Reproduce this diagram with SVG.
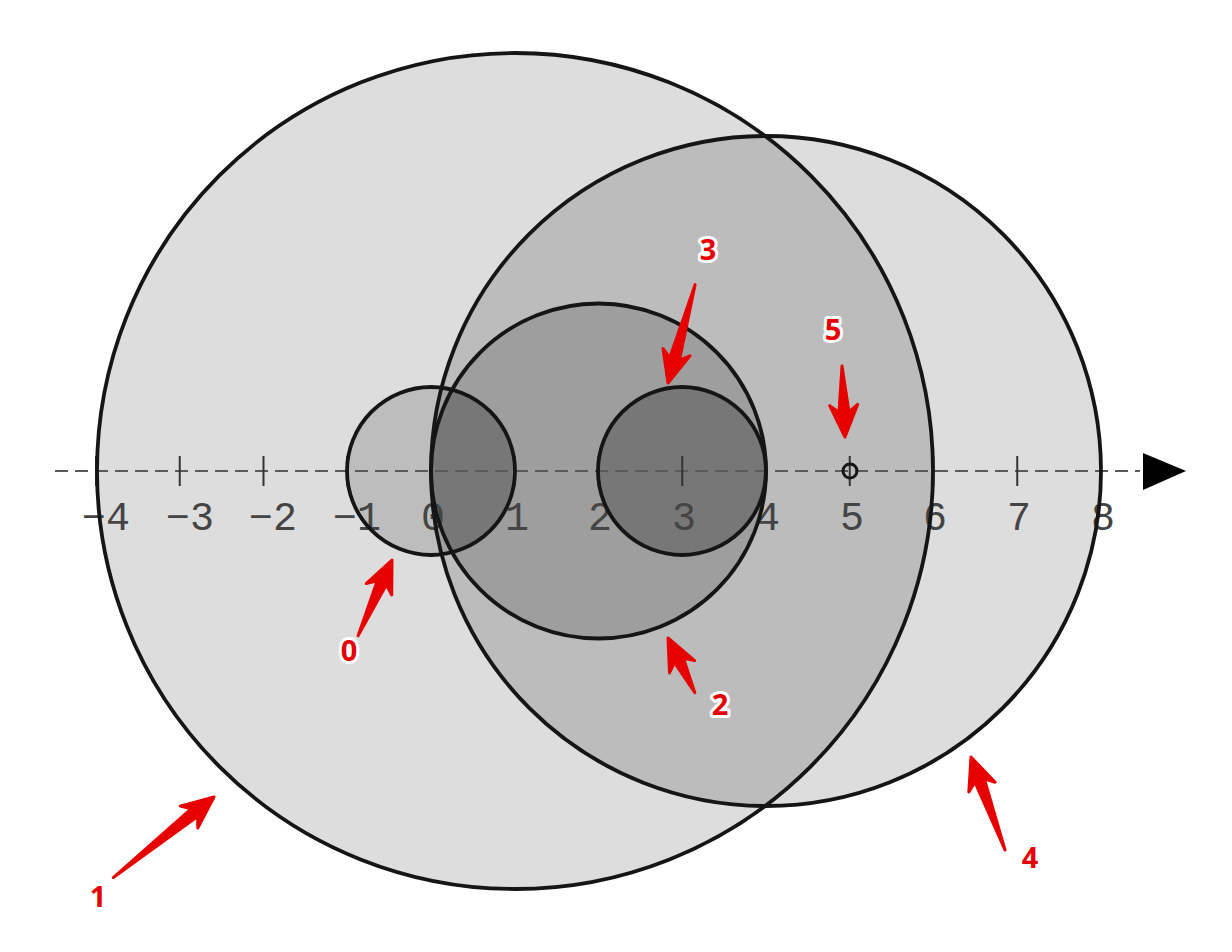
<svg xmlns="http://www.w3.org/2000/svg" width="1232" height="952" viewBox="0 0 1232 952">
  <style>
    .edge { fill: none; stroke: #151515; stroke-width: 3.8; }
    .tick { stroke: #333; stroke-width: 2; }
    .num { font-family: "Liberation Mono", "DejaVu Sans Mono", monospace; font-size: 40px; fill: #444444; text-anchor: middle; }
    .arrow { fill: #e60000; stroke: #e60000; stroke-width: 3; stroke-linejoin: round; }
    .lbl { font-family: "Open Sans", "Liberation Sans", sans-serif; font-weight: bold; font-size: 29px; fill: #e60000; stroke: #ffffff; stroke-width: 6; paint-order: stroke; stroke-linejoin: round; text-anchor: middle; }
  </style>
  <defs>
    <clipPath id="clip1"><circle cx="515" cy="471" r="418"/></clipPath>
    <clipPath id="clip4"><circle cx="766" cy="471" r="335"/></clipPath>
    <clipPath id="clip2"><circle cx="598.5" cy="471" r="167.5"/></clipPath>
  </defs>
  <rect x="0" y="0" width="1232" height="952" fill="#ffffff"/>

  <g id="fills">
    <circle cx="515" cy="471" r="418" fill="#dddddd"/>
    <circle cx="766" cy="471" r="335" fill="#dddddd"/>
    <circle cx="766" cy="471" r="335" fill="#bcbcbc" clip-path="url(#clip1)"/>
    <circle cx="431" cy="471" r="84" fill="#bdbdbd"/>
    <circle cx="431" cy="471" r="84" fill="#9e9e9e" clip-path="url(#clip4)"/>
    <circle cx="598.5" cy="471" r="167.5" fill="#9e9e9e"/>
    <circle cx="431" cy="471" r="84" fill="#777777" clip-path="url(#clip2)"/>
    <circle cx="682" cy="471" r="84" fill="#777777"/>
  </g>

  <g id="axis">
    <line x1="55" y1="471" x2="1140" y2="471" stroke="#5a5a5a" stroke-width="2" stroke-dasharray="13 7"/>
    <polygon points="1143,453 1186,471 1143,490" fill="#000000"/>
    <g class="tick">
      <line x1="96" y1="456" x2="96" y2="486"/>
      <line x1="179.75" y1="456" x2="179.75" y2="486"/>
      <line x1="263.5" y1="456" x2="263.5" y2="486"/>
      <line x1="347.25" y1="456" x2="347.25" y2="486"/>
      <line x1="431" y1="456" x2="431" y2="486"/>
      <line x1="514.75" y1="456" x2="514.75" y2="486"/>
      <line x1="598.5" y1="456" x2="598.5" y2="486"/>
      <line x1="682.25" y1="456" x2="682.25" y2="486"/>
      <line x1="766" y1="456" x2="766" y2="486"/>
      <line x1="849.75" y1="456" x2="849.75" y2="486"/>
      <line x1="933.5" y1="456" x2="933.5" y2="486"/>
      <line x1="1017.25" y1="456" x2="1017.25" y2="486"/>
      <line x1="1101" y1="456" x2="1101" y2="486"/>
    </g>
    <g class="num">
      <text x="106" y="530">−4</text>
      <text x="190" y="530">−3</text>
      <text x="273" y="530">−2</text>
      <text x="357" y="530">−1</text>
      <text x="433" y="530">0</text>
      <text x="517" y="530">1</text>
      <text x="600" y="530">2</text>
      <text x="684" y="530">3</text>
      <text x="768" y="530">4</text>
      <text x="852" y="530">5</text>
      <text x="935" y="530">6</text>
      <text x="1019" y="530">7</text>
      <text x="1103" y="530">8</text>
    </g>
  </g>

  <g id="circle-1"><circle class="edge" cx="515" cy="471" r="418"/></g>
  <g id="circle-4"><circle class="edge" cx="766" cy="471" r="335"/></g>
  <g id="circle-2"><circle class="edge" cx="598.5" cy="471" r="167.5"/></g>
  <g id="circle-0"><circle class="edge" cx="431" cy="471" r="84"/></g>
  <g id="circle-3"><circle class="edge" cx="682" cy="471" r="84"/></g>
  <g id="point-5"><circle cx="850" cy="471" r="7" fill="none" stroke="#151515" stroke-width="3"/></g>

  <g id="connectors">
    <path class="arrow" transform="translate(392,560) rotate(-65.9)" d="M-83,0 L-25,-5 L-32,-14 L0,0 L-32,14 L-25,5 Z"/>
    <path class="arrow" transform="translate(214,797) rotate(-38.7)" d="M-129,0 L-25,-5 L-32,-14 L0,0 L-32,14 L-25,5 Z"/>
    <path class="arrow" transform="translate(668,638) rotate(-116.1)" d="M-61,0 L-25,-5 L-32,-14 L0,0 L-32,14 L-25,5 Z"/>
    <path class="arrow" transform="translate(668,383) rotate(105.4)" d="M-102,0 L-25,-5 L-32,-14 L0,0 L-32,14 L-25,5 Z"/>
    <path class="arrow" transform="translate(971,757) rotate(-110.1)" d="M-99,0 L-25,-5 L-32,-14 L0,0 L-32,14 L-25,5 Z"/>
    <path class="arrow" transform="translate(845,437) rotate(87.6)" d="M-71,0 L-25,-5 L-32,-14 L0,0 L-32,14 L-25,5 Z"/>
  </g>

  <g id="labels">
    <text class="lbl" x="349" y="661">0</text>
    <text class="lbl" x="98" y="907">1</text>
    <text class="lbl" x="720" y="715">2</text>
    <text class="lbl" x="708" y="260">3</text>
    <text class="lbl" x="1030" y="868">4</text>
    <text class="lbl" x="833" y="340">5</text>
  </g>
</svg>
